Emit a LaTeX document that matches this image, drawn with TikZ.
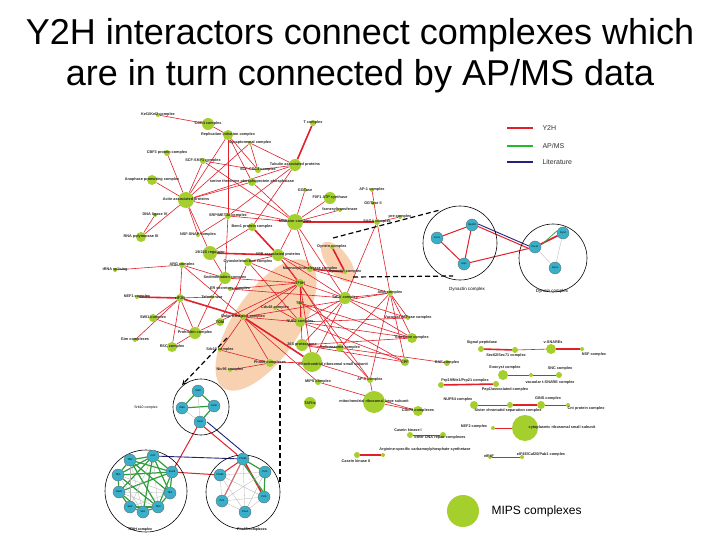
\documentclass[tikz,border=0pt]{standalone}
\usepackage{fontspec}
\setmainfont{Liberation Sans}
\pgfdeclarelayer{back}
\pgfdeclarelayer{edges}
\pgfsetlayers{back,edges,main}
\definecolor{mips}{HTML}{A5CF2C}
\definecolor{prot}{HTML}{3AAFC9}
\definecolor{yred}{HTML}{E0202A}
\definecolor{apg}{HTML}{2E9E3A}
\definecolor{litb}{HTML}{22237A}
\definecolor{blob}{HTML}{F8D2B0}
\tikzset{
  cx/.style={circle,fill=mips,inner sep=0pt},
  lbl/.style={font=\fontsize{3.8}{4.5}\selectfont\bfseries,inner sep=0pt,text=black!85},
  pn/.style={circle,fill=prot,draw=black!60,line width=0.3pt,minimum size=12pt,inner sep=0pt,font=\fontsize{2.5}{3}\selectfont},
  ed/.style={draw=yred,line width=0.6pt},
  edt/.style={draw=yred,line width=1.6pt},
  ge/.style={draw=apg,line width=1.2pt},
  gr/.style={draw=black!30,line width=0.3pt},
  be/.style={draw=litb,line width=0.9pt},
  dsh/.style={dashed,line width=1.2pt,dash pattern=on 5pt off 3pt},
  ring/.style={draw=black,line width=0.6pt}
}
\newcommand\mn[5]{\node[cx,minimum size=#4*2pt] (#1) at (#2,#3) {};\node[lbl] at (#2,#3) {#5};}
\newcommand\pr[4]{\node[pn] (#1) at (#2,#3) {#4};}
\begin{document}
\begin{tikzpicture}[x=1pt,y=-1pt]
\useasboundingbox (0,0) rectangle (720,540);
\begin{pgfonlayer}{back}
\fill[white] (0,0) rectangle (720,540);
\fill[blob] (266,325) ellipse[x radius=76pt,y radius=33pt,rotate=56];
\fill[blob] (338,262) ellipse[x radius=24pt,y radius=11pt,rotate=-53];
\end{pgfonlayer}
\node[font=\fontsize{36}{42}\selectfont] at (360,35) {Y2H interactors connect complexes which};
\node[font=\fontsize{36}{42}\selectfont] at (360,76) {are in turn connected by AP/MS data};
% legend
\draw[yred,line width=1.2pt] (507,128) -- (533,128);
\draw[apg!70!green,line width=1.2pt] (507,146) -- (533,146);
\draw[litb,line width=1.2pt] (507,162) -- (533,162);
\node[anchor=west,font=\fontsize{7}{8}\selectfont,text=black!80] at (539,128) {Y2H};
\node[anchor=west,font=\fontsize{7}{8}\selectfont,text=black!80] at (539,146) {AP/MS};
\node[anchor=west,font=\fontsize{7}{8}\selectfont,text=black!80] at (539,162) {Literature};
\node[cx,minimum size=32pt] (mipsleg) at (463,511) {};
\node[anchor=west,font=\fontsize{12}{14}\selectfont] at (488,511) {MIPS complexes};
% main nodes
\mn{kel}{158}{115}{2}{Kel1/Kel2 complex}
\mn{ccr}{208}{124}{6}{CCR4 complex}
\mn{rep}{228}{135}{5}{Replication initiation complex}
\mn{syn}{250}{143}{2}{Synaptonemal complex}
\mn{cbf}{167}{153}{3}{CBF3 protein complex}
\mn{scf}{203}{161}{3}{SCF-SKP1 complex}
\mn{scfc}{258}{170}{3}{SCF-CDC4 complex}
\mn{tub}{295}{165}{6}{Tubulin associated proteins}
\mn{tco}{313}{123}{3}{T complex}
\mn{apc}{152}{180}{5}{Anaphase promoting complex}
\mn{ser}{252}{182}{4}{serine threonine phosphoprotein phosphatase}
\mn{ggt}{305}{190}{2}{GGTase}
\mn{fof}{330}{198}{6}{F0F1 ATP synthase}
\mn{apa}{372}{190}{2}{AP-1 complex}
\mn{act}{186}{200}{8}{Actin associated proteins}
\mn{ggb}{373}{203}{2}{GGTase II}
\mn{far}{340}{210}{2}{farnesyltransferase}
\mn{pre}{400}{217}{2}{pre-complex}
\mn{dnl}{155}{215}{2}{DNA ligase IV}
\mn{srp}{228}{216}{3}{SRP/MET30 complex}
\mn{med}{295}{222}{8}{Mediator complex}
\mn{saga}{377}{222}{3}{SAGA complex}
\mn{bem}{252}{227}{4}{Bem1 protein complex}
\mn{rnap}{141}{237}{5}{RNA polymerase III}
\mn{nsf}{198}{235}{2}{NSF-SNAP complex}
\mn{dyn}{332}{247}{2}{Dynein complex}
\mn{reg}{210}{253}{7}{19/22S regulator}
\mn{spb}{278}{255}{6}{SPB associated proteins}
\mn{cyt}{248}{262}{4}{Cytoskeleton-bud complex}
\mn{man}{310}{269}{3}{Mannosyltransferase complex}
\mn{dyc}{345}{272}{2}{Dynactin complex}
\mn{trna}{115}{270}{2}{tRNA splicing}
\mn{arg}{182}{265}{3}{ARG complex}
\mn{sed}{225}{278}{6}{Sedimentation complex}
\mn{tfh}{300}{283}{4}{TFIIH}
\mn{ess}{230}{289}{2}{ER secretory complex}
\mn{tel}{212}{297}{2}{Telomerase}
\mn{nef}{137}{297}{2}{NEF1 complex}
\mn{eif}{180}{298}{4}{eIF2B}
\mn{aba}{390}{293}{3}{ABA complex}
\mn{taf}{345}{298}{6}{Taf-A complex}
\mn{tbp}{300}{303}{2}{TBP}
\mn{gol}{243}{317}{3}{Golgi transport complex}
\mn{tom}{220}{322}{4}{TOM}
\mn{swi}{153}{318}{4}{SWI1 complex}
\mn{cdc}{275}{308}{2}{Cdc48 complex}
\mn{nup}{300}{322}{5}{NUP2 complex}
\mn{exo}{195}{333}{6}{Prohibitin complex}
\mn{vac}{408}{318}{2}{Vacuolar ATPase complex}
\mn{gim}{135}{340}{2}{Gim complexes}
\mn{rsc}{172}{347}{5}{RSC complex}
\mn{pro}{302}{345}{6}{26S proteasome}
\mn{psc}{412}{338}{5}{Exosome complex}
\mn{spl}{340}{348}{4}{Spliceosome complex}
\mn{sbt}{220}{350}{2}{Srb10 complex}
\mn{mrs}{312}{362}{10}{}\node[lbl] at (333,364) {mitochondrial ribosomal small subunit};
\mn{pho}{270}{363}{4}{Pho85 complexes}
\mn{nic}{230}{370}{2}{Nic96 complex}
\mn{cpf}{405}{362}{4}{CPF}
\mn{caf}{447}{363}{3}{CAF complex}
\mn{mip}{318}{382}{3}{MIPS complex}
\mn{apc3}{370}{380}{3}{AP-3 complex}
\mn{tafs}{310}{403}{6}{TAFIIs}
\mn{mrl}{374}{402}{11}{mitochondrial ribosomal large subunit}
\mn{cst}{418}{411}{5}{Cdc73 complexes}
% right clusters
\mn{sigp}{481}{349}{3}{}\node[lbl] at (482,343) {Signal peptidase};
\mn{sec}{515}{350}{3}{}\node[lbl] at (506,356) {Sec62/Sec71 complex};
\mn{vsn}{551}{349}{5}{}\node[lbl] at (553,342) {v-SNAREs};
\mn{nsft}{582}{349}{2}{}\node[lbl] at (594,355) {NSF complex};
\mn{exc}{503}{375}{5}{}\node[lbl] at (505,368) {Exocyst complex};
\mn{vts}{531}{375}{2}{}
\mn{snc}{559}{375}{3}{}\node[lbl] at (560,369) {SNC complex};
\node[lbl] at (550,383) {vacuolar t-SNARE complex};
\mn{prp}{441}{385}{3}{}\node[lbl] at (465,381) {Prp19/Ntr1/Prp21 complex};
\mn{pep}{496}{384}{3}{}\node[lbl] at (505,390) {Pep1/associated complex};
\mn{nupe}{474}{405}{4}{}\node[lbl] at (458,400) {NUP84 complex};
\mn{sis}{510}{405}{3}{}\node[lbl] at (508,411) {Sister chromatid separation complex};
\mn{gins}{541}{405}{4}{}\node[lbl] at (548,399) {GINS complex};
\mn{cnt}{568}{405}{2}{}\node[lbl] at (586,409) {Cnt protein complex};
\mn{neft}{493}{428}{2}{}\node[lbl] at (474,427) {NEF2 complex};
\mn{crs}{525}{428}{13}{}\node[lbl] at (562,428) {cytoplasmic ribosomal small subunit};
\mn{cko}{410}{435}{3}{}\node[lbl] at (408,430) {Casein kinase I};
\mn{dnar}{443}{435}{3}{}\node[lbl] at (440,438) {other DNA repair complexes};
\mn{ckt}{357}{455}{3}{}\node[lbl] at (356,461) {Casein kinase II};
\mn{ars}{383}{455}{2}{}\node[lbl] at (425,450) {Arginine-specific carbamoylphosphate synthetase};
\mn{eiff}{490}{457}{2}{}\node[lbl] at (489,456) {eIF4F};
\mn{pab}{522}{457}{2}{}\node[lbl] at (541,455) {eIF4E/Caf20/Pab1 complex};
% dynactin/dynein insets
\draw[ring] (460,243) circle[radius=37pt];
\draw[ring] (553,258) circle[radius=34pt];
\pr{nip}{472}{225}{Nip100}
\pr{jnm}{437}{238}{Jnm1}
\pr{arp}{464}{264}{Arp1}
\pr{pac}{535}{247}{Pac11}
\pr{dyb}{563}{233}{Dyn2}
\pr{dya}{555}{268}{Dyn1}
\node[font=\fontsize{4.5}{5}\selectfont] at (467,289) {Dynactin complex};
\node[font=\fontsize{4.5}{5}\selectfont] at (552,291) {Dynein complex};
% lower-left insets
\draw[ring] (201,407) circle[radius=28pt];
\draw[ring] (146,491) circle[radius=41pt];
\draw[ring] (243,492) circle[radius=37pt];
\pr{sa}{198}{391}{Srb8}
\pr{sb}{182}{408}{Srb9}
\pr{sc}{214}{406}{Ssn8}
\pr{sd}{200}{422}{Ssn3}
\pr{ta}{130}{460}{Tfb2}
\pr{tb}{153}{456}{Ccl1}
\pr{tc}{172}{472}{Kin28}
\pr{td}{118}{475}{Tfb4}
\pr{te}{170}{493}{Tfb1}
\pr{tf}{119}{492}{Rad3}
\pr{tg}{130}{507}{Ssl2}
\pr{th}{143}{512}{Ssl1}
\pr{ti}{158}{507}{Tfb3}
\pr{pa}{243}{459}{Pho85}
\pr{pb}{265}{472}{Pcl2}
\pr{pc}{220}{475}{Pho80}
\pr{pd}{264}{497}{Pcl6}
\pr{pe}{222}{501}{Pcl1}
\pr{pf}{245}{512}{Pho4}
\node[font=\fontsize{3.5}{4}\selectfont] at (146,408) {Srb10 complex};
\node[font=\fontsize{3.5}{4}\selectfont\bfseries] at (140,530) {TFIIH complex};
\node[font=\fontsize{3.5}{4}\selectfont\bfseries] at (252,530) {Pho85 complexes};
% dashed zoom lines
\coordinate (d1) at (333,238); \coordinate (d2) at (440,210);
\coordinate (d3) at (353,277); \coordinate (d4) at (453,276);
\coordinate (d5) at (227,338); \coordinate (d6) at (182,385);
\coordinate (d7) at (280,365); \coordinate (d8) at (280,483);
\draw[dsh] (d1) -- (d2);
\draw[dsh] (d3) -- (d4);
\draw[dsh,-stealth] (d5) -- (d6);
\draw[dsh] (d7) -- (d8);
\begin{pgfonlayer}{edges}
\foreach \a/\b in {kel/ccr,ccr/rep,rep/act,rep/srp,rep/ser,rep/scfc,syn/scfc,syn/act,syn/tub,scf/act,scf/scfc,scf/med,cbf/act,apc/act,act/ser,act/tub,act/reg,act/med,dnl/rnap,rnap/act,act/nsf,srp/med,srp/tub,tub/bem,ser/med,ggt/med,fof/med,med/far,bem/reg,med/spb,med/man,med/taf,saga/apa,saga/pre,saga/taf,saga/aba,spb/cyt,spb/tfh,spb/man,cyt/tfh,sed/arg,sed/tfh,arg/trna,arg/gol,arg/eif,eif/swi,eif/gim,eif/rsc,eif/exo,eif/tel,tel/sed,tfh/gol,tfh/taf,tfh/nup,tfh/pro,tfh/mrs,tfh/spl,tfh/tbp,tfh/cdc,tfh/exo,gol/pho,gol/nup,gol/mip,gol/sbt,taf/aba,taf/vac,taf/psc,taf/nup,taf/pro,aba/vac,aba/psc,aba/cpf,aba/apc3,aba/spl,taf/mrs,nup/psc,nup/vac,pro/spl,pro/cpf,spl/caf,spl/apc3,mrs/apc3,mip/cst,pro/psc,nup/cpf,exo/rsc,sbt/pho,nic/pho,pho/mrs,swi/exo,cyt/tom,reg/sed,tel/exo,nsf/srp,ess/tfh,ess/taf,cyt/nup,man/aba,spb/taf,tub/scfc,srp/sed,tbp/psc,gol/aba,spb/apc3,cdc/nup,tbp/cpf,mrl/apc3}
  \draw[ed] (\a) -- (\b);
\foreach \a/\b in {tco/tub,med/saga,bem/spb,spb/reg,man/dyc,dyn/dyc,eif/nef,eif/gol,gol/mrs,sigp/sec,vsn/nsft,prp/pep,sis/gins,ckt/ars}
  \draw[edt] (\a) -- (\b);
\foreach \a/\b in {sec/vsn,exc/vts,vts/snc,nupe/sis,gins/cnt,neft/crs,cko/dnar,eiff/pab,mrl/cst}
  \draw[ed] (\a) -- (\b);
\foreach \a/\b in {nip/jnm,jnm/arp,nip/arp,arp/pac,sd/tc,tc/pc,pa/pc,pa/pe}
  \draw[ed,line width=1pt] (\a) -- (\b);
\draw[be] ([yshift=1pt]nip.east) -- ([yshift=1pt]pac.west);
\draw[ed,line width=1pt] ([yshift=-1.5pt]nip.east) -- ([yshift=-1.5pt]pac.west);
\draw[edt] (pac) -- (dyb);
\draw[ge,line width=0.7pt] ([yshift=2pt]pac.east) -- ([yshift=2pt]dyb.west);
\draw[gr] (pac) -- (dya); \draw[gr] (dyb) -- (dya);
\draw[be] ([xshift=1pt]sd.east) -- ([xshift=1pt]pa.north);
\draw[ed,line width=1pt] ([xshift=-1pt]sd.south east) -- ([xshift=-1.5pt]pa.north west);
\draw[be] (tb) -- (pa);
\draw[edt] (pa) -- (pd);
\draw[ge] (pa) -- (pb) -- (pd);
\draw[ge] ([xshift=1.5pt]pa.south) -- ([xshift=-1.5pt]pd.north);
\foreach \a/\b in {sa/sb,sa/sc,sb/sc,sc/sd}
  \draw[ge] (\a) -- (\b);
\foreach \a/\b in {sb/sd,sa/sd}
  \draw[gr] (\a) -- (\b);
\foreach \a/\b in {ta/tb,tb/tc,ta/td,td/tf,tf/tg,tg/th,th/ti,ti/te,te/tc,ta/tc,ta/te,tb/td,tb/tf,td/tc,tb/te,tf/tc,td/ti,tg/ti,ta/ti,tf/th,tc/ti,tb/th}
  \draw[ge] (\a) -- (\b);
\foreach \a/\b in {ta/tg,tb/tg,td/te,tf/ti,tg/te,td/th,ta/th,tb/ti,tf/te}
  \draw[gr] (\a) -- (\b);
\foreach \a/\b in {pa/pf,pc/pe,pc/pf,pc/pd,pc/pb,pe/pf,pf/pd,pe/pb,pe/pd,pb/pf,pa/pe}
  \draw[gr] (\a) -- (\b);
\end{pgfonlayer}
\end{tikzpicture}
\end{document}
